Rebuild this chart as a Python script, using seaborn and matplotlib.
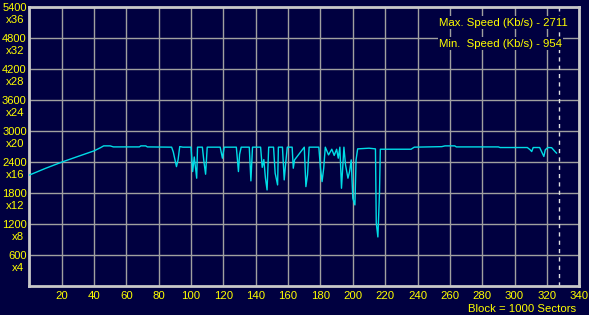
import matplotlib
matplotlib.use('Agg')
import matplotlib.pyplot as plt
import seaborn as sns
import pandas as pd
from matplotlib.transforms import blended_transform_factory

# ---- data ----
block = [0, 10, 20, 30, 40, 44, 46, 50, 52, 68, 69, 72, 73, 88,
         89, 91, 92, 93, 95, 100, 101, 102, 103.5, 104, 107, 108, 109, 110,
         118, 119.4, 120.5, 128, 129.3, 130, 131, 136, 137, 138,
         143, 144, 145, 146, 147, 148, 151, 152, 153.5, 154,
         156.5, 157.6, 158.5, 159.5, 162.5, 163.2, 164, 170, 171, 172, 173,
         179, 180, 181, 182, 183, 185, 187, 188.5, 190, 191, 192, 193, 194.5,
         195.5, 197, 198, 199, 200, 201.3, 202, 203, 210, 214, 214.5, 215.5,
         216.5, 217, 236, 238, 255, 257, 263, 264, 290, 291, 307.9, 309.6,
         310.6, 311.5, 315.5, 318.1, 319, 320.6, 322.9, 325, 326]
speed = [2150, 2280, 2400, 2510, 2618, 2680, 2715, 2715, 2695, 2695, 2715, 2715, 2695, 2690,
         2600, 2314, 2450, 2701, 2690, 2690, 2218, 2500, 2090, 2690, 2690, 2400, 2167, 2690,
         2690, 2477, 2690, 2690, 2218, 2550, 2690, 2690, 2038, 2690,
         2690, 2300, 2450, 2090, 1863, 2690, 2690, 2186, 1960, 2690,
         2690, 2057, 2380, 2690, 2690, 2283, 2444, 2690, 1927, 2153, 2690,
         2690, 2283, 2024, 2283, 2690, 2540, 2650, 2530, 2650, 2477, 2690, 1896, 2690,
         2347, 2090, 2218, 2444, 1703, 1573, 2444, 2657, 2670, 2657, 1225, 954,
         1811, 2650, 2650, 2690, 2700, 2715, 2715, 2695, 2695, 2683, 2683, 2640,
         2605, 2683, 2683, 2510, 2640, 2683, 2680, 2605, 2573]

xtick_values = list(range(20, 341, 20))
ytick_values = [600, 1200, 1800, 2400, 3000, 3600, 4200, 4800, 5400]
ytick_multipliers = ['x4', 'x8', 'x12', 'x16', 'x20', 'x24', 'x28', 'x32', 'x36']
max_speed = 2711
min_speed = 954
end_block = 327.6

BG = '#000040'
YEL = '#FFFF00'
GRID = '#A0A0A0'
FRAME = '#C8C8C8'
CYAN = '#00DDE6'

sns.set_theme(style='dark')
plt.rcParams['font.family'] = ['Liberation Sans', 'DejaVu Sans']
FS = 8.2

fig = plt.figure(figsize=(5.89, 3.15), dpi=100, facecolor=BG)
ax = fig.add_axes([0.0497, 0.0911, 0.9338, 0.8867])
ax.set_facecolor(BG)

df = pd.DataFrame({'block': block, 'speed': speed})
sns.lineplot(data=df, x='block', y='speed', sort=False, estimator=None,
             color=CYAN, lw=1, ax=ax, zorder=3)

ax.set_xlim(0, 340)
ax.set_ylim(0, 5400)
ax.set_xticks(xtick_values)
ax.set_xticklabels([str(v) for v in xtick_values])
ax.set_yticks(ytick_values)
ax.set_yticklabels([str(v) for v in ytick_values])
ax.set_xlabel('')
ax.set_ylabel('')
ax.grid(True, color=GRID, lw=1, zorder=1)
ax.set_axisbelow(True)
ax.tick_params(axis='both', length=0, colors=YEL, labelsize=FS)
ax.tick_params(axis='y', pad=1.8, labelsize=8)
ax.tick_params(axis='x', pad=3.5)
for s in ax.spines.values():
    s.set_visible(True)
    s.set_color(FRAME)
    s.set_linewidth(2)

trans = blended_transform_factory(ax.transAxes, ax.transData)
for v, m in zip(ytick_values, ytick_multipliers):
    ax.annotate(m, xy=(0, v), xycoords=trans, xytext=(-5, -13),
                textcoords='offset pixels', ha='right', va='center',
                color=YEL, fontsize=FS, annotation_clip=False)

ax.axvline(end_block, color='#E0E0E0', ls=(0, (3, 3)), lw=1, zorder=2)

box = dict(facecolor=BG, edgecolor='none', pad=1)
ax.text(253.3, 5095, f'Max. Speed (Kb/s) - {max_speed}', color=YEL, fontsize=FS,
        ha='left', va='center', bbox=box, zorder=4)
ax.text(253.3, 4689, f'Min.  Speed (Kb/s) - {min_speed}', color=YEL, fontsize=FS,
        ha='left', va='center', bbox=box, zorder=4)

fig.text(576 / 589, 1 - 308.5 / 315, 'Block = 1000 Sectors', color=YEL, fontsize=FS,
         ha='right', va='center')

fig.savefig('out.png', dpi=100, facecolor=BG)
